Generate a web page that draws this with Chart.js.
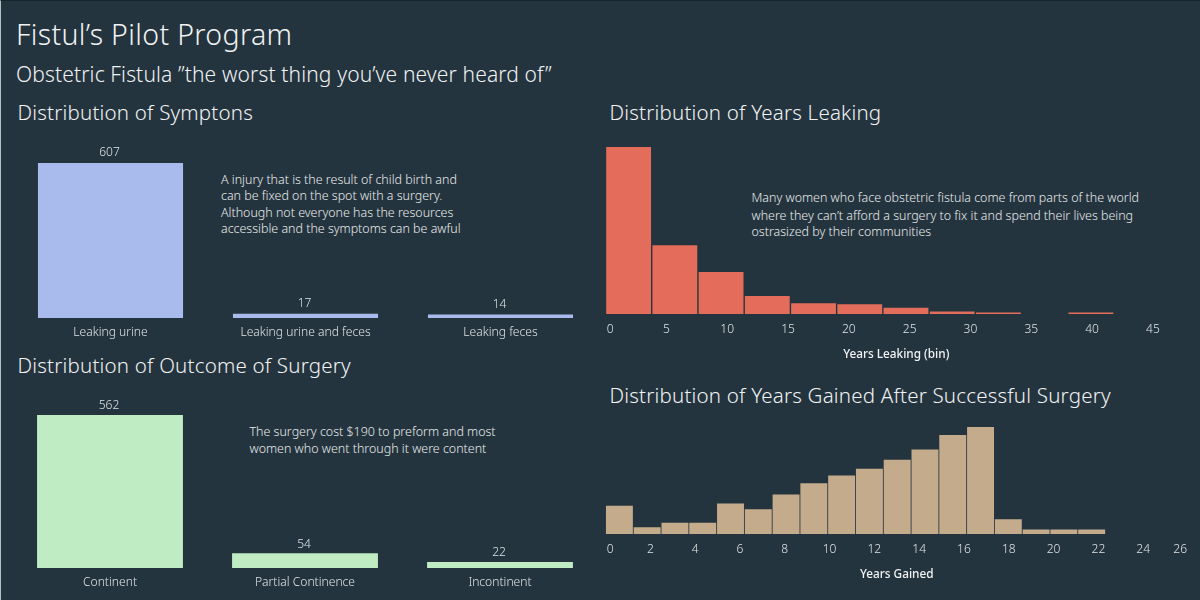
<!DOCTYPE html>
<html><head><meta charset="utf-8">
<style>
html,body{margin:0;padding:0;background:#24343e;}
#page{position:relative;width:1200px;height:600px;overflow:hidden;background:#24343e;font-family:"Noto Sans",sans-serif;color:#f0f2f3;box-sizing:border-box;}
#page .frame{position:absolute;left:0;top:0;width:1200px;height:600px;box-sizing:border-box;border-left:1px solid #b9c0c4;border-top:1px solid #1a262e;}
canvas{position:absolute;left:0;top:0;}
.t{position:absolute;white-space:pre;line-height:1;transform:translateY(-50%);font-weight:300;}
.h1{font-size:28.5px;letter-spacing:.35px;}
.h2{font-size:21px;letter-spacing:.13px;}
.h3{font-size:20.5px;letter-spacing:.2px;}
.n{font-size:12.45px;color:#e8ebec;}
</style></head><body>
<div id="page">
<div class="frame"></div>
<div class="t h1" style="left:16px;top:34px">Fistul’s Pilot Program</div>
<div class="t h2" style="left:16px;top:74px">Obstetric Fistula ”the worst thing you’ve never heard of”</div>
<div class="t h3" style="left:17.5px;top:112px">Distribution of Symptons</div>
<div class="t h3" style="left:609.5px;top:112px">Distribution of Years Leaking</div>
<div class="t h3" style="left:17.5px;top:365px">Distribution of Outcome of Surgery</div>
<div class="t h3" style="left:609.5px;top:395px">Distribution of Years Gained After Successful Surgery</div>
<div class="t n" style="left:221px;top:180px">A injury that is the result of child birth and</div>
<div class="t n" style="left:221px;top:196px">can be fixed on the spot with a surgery.</div>
<div class="t n" style="left:221px;top:213px">Although not everyone has the resources</div>
<div class="t n" style="left:221px;top:229px">accessible and the symptoms can be awful</div>
<div class="t n" style="left:751.5px;top:198px">Many women who face obstetric fistula come from parts of the world</div>
<div class="t n" style="left:751.5px;top:216px">where they can’t afford a surgery to fix it and spend their lives being</div>
<div class="t n" style="left:751.5px;top:232px">ostrasized by their communities</div>
<div class="t n" style="left:249.5px;top:432px">The surgery cost $190 to preform and most</div>
<div class="t n" style="left:249.5px;top:449px">women who went through it were content</div>
<canvas id="c1" width="1200" height="600"></canvas>
<canvas id="c2" width="1200" height="600"></canvas>
<canvas id="c3" width="1200" height="600"></canvas>
<canvas id="c4" width="1260" height="600"></canvas>
</div>
<script src="https://cdn.jsdelivr.net/npm/chart.js@4"></script>
<script>
const symptomCategories = ["Leaking urine","Leaking urine and feces","Leaking feces"];
const symptomValues = [607,17,14];
const outcomeCategories = ["Continent","Partial Continence","Incontinent"];
const outcomeValues = [562,54,22];
const leakingBinSize = 3.8;
const leakingCounts = [323,133,81,35,21,19,12,5,3,0,3];
const gainedBinSize = 1.24;
const gainedCounts = [25,6,10,10,27,22,35,45,52,58,66,75,88,95,13,4,4,4];

const FONT = '"Noto Sans", sans-serif';
const TICK = '#dfe3e5';
Chart.defaults.animation = false;
Chart.defaults.responsive = false;
Chart.defaults.font.family = FONT;

const valueLabels = {
  id:'valueLabels',
  afterDatasetsDraw(chart){
    const {ctx} = chart;
    const meta = chart.getDatasetMeta(0);
    const gap = chart.canvas.id === 'c1' ? 4 : 3;
    ctx.save();
    ctx.fillStyle = TICK;
    ctx.font = '300 12px ' + FONT;
    ctx.textAlign = 'center';
    ctx.textBaseline = 'bottom';
    meta.data.forEach((bar,i)=>{
      ctx.fillText(String(chart.data.datasets[0].data[i]), bar.x-1, bar.y-gap);
    });
    ctx.restore();
  }
};

function catChart(id, labels, values, color, pad, pct){
  const H = 30;
  const canvas = document.getElementById(id);
  new Chart(canvas,{
    type:'bar',
    data:{labels, datasets:[{data:values, backgroundColor:color, barPercentage:pct, categoryPercentage:1}]},
    options:{
      layout:{padding:{left:pad.left,right:canvas.width-pad.right,top:pad.top,bottom:600-pad.base-H}},
      plugins:{legend:{display:false},tooltip:{enabled:false}},
      scales:{
        x:{grid:{display:false,drawTicks:false},border:{display:false},
           ticks:{color:TICK,font:{size:12.1,weight:'300'},padding:7,maxRotation:0,autoSkip:false},
           afterFit(s){s.height=H;}},
        y:{display:false,min:0,max:Math.max(...values)}
      }
    },
    plugins:[valueLabels]
  });
}
function histChart(id, size, counts, color, pad, maxX, step, title, labelFix){
  const H = 50;
  const canvas = document.getElementById(id);
  new Chart(canvas,{
    type:'bar',
    data:{datasets:[{data:counts.map((c,i)=>({x:(i+0.5)*size,y:c})), backgroundColor:color, barPercentage:1, categoryPercentage:0.97, grouped:false}]},
    options:{
      layout:{padding:{left:pad.left,right:canvas.width-pad.right,top:pad.top,bottom:600-pad.base-H}},
      plugins:{legend:{display:false},tooltip:{enabled:false}},
      scales:{
        x:{type:'linear',min:0,max:maxX,offset:false,grid:{display:false,drawTicks:false},border:{display:false},
           ticks:{stepSize:step,includeBounds:false,color:TICK,font:{size:12,weight:'300'},padding:8,maxRotation:0,autoSkip:false,callback:labelFix},
           title:{display:true,text:title,color:'#f0f2f3',font:{size:11.8,weight:'500'},padding:{top:0,bottom:2}},
           afterFit(s){s.height=H;}},
        y:{display:false,min:0,max:Math.max(...counts)}
      }
    }
  });
}
catChart('c1',symptomCategories,symptomValues,'#a8bbec',{left:13,right:598,top:163,base:318},0.744);
catChart('c2',outcomeCategories,outcomeValues,'#bfecc2',{left:12.5,right:597.5,top:415,base:568},0.748);
histChart('c3',leakingBinSize,leakingCounts,'#e46c5a',{left:605.5,right:1187,top:147,base:314},47.8,5,'Years Leaking (bin)',
  v=>v===0?'\u00a0\u00a0\u00a00':String(v));
histChart('c4',gainedBinSize,gainedCounts,'#c4ab8c',{left:605.5,right:1188,top:427,base:534},26,2,'Years Gained',
  v=>v===0?'\u00a0\u00a0\u00a00':v===26?'26\u00a0\u00a0\u00a0\u00a0\u00a0':String(v));
</script>
</body></html>
